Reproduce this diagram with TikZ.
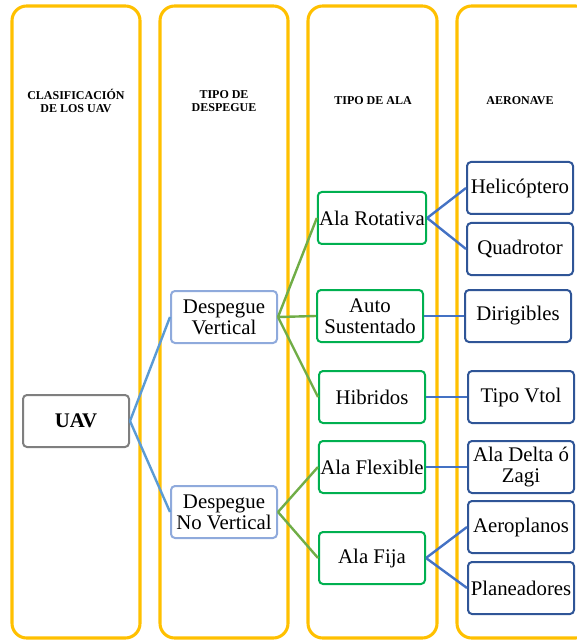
\documentclass[tikz,border=0pt]{standalone}
\usepackage{fontspec}
\setmainfont{Liberation Serif}
\newfontfamily\boxfont{Liberation Serif}
\usepackage{tikz}
\definecolor{gold}{HTML}{FFC000}
\definecolor{uavgray}{HTML}{7F7F7F}
\definecolor{lightblue}{HTML}{8FAADC}
\definecolor{midblue}{HTML}{5B9BD5}
\definecolor{nodegreen}{HTML}{00B050}
\definecolor{linegreen}{HTML}{70AD47}
\definecolor{darkblue}{HTML}{2F5597}
\definecolor{lineblue}{HTML}{4472C4}
\tikzset{
  column/.style={draw=gold, line width=2.3pt, rounded corners=11pt},
  header/.style={font=\boxfont\fontsize{9}{10}\selectfont\bfseries, align=center},
  box/.style={draw, fill=white, rounded corners=3pt, line width=1.5pt,
    minimum width=79.5pt, minimum height=39pt, inner sep=1pt, align=center,
    font=\boxfont\fontsize{15.6}{15.8}\selectfont},
  link/.style={line width=1.8pt}
}

\begin{document}
\begin{tikzpicture}[x=0.75pt, y=-0.75pt]
    \useasboundingbox (0,0) rectangle (576,641);
    \draw[column] (12,6) rectangle (140,638);
    \draw[column] (160,6) rectangle (288,638);
    \draw[column] (308,6) rectangle (437,638);
    \draw[column] (457,6) rectangle (590,638);

    \node[header] (h1) at (76,101) {CLASIFICACIÓN\\DE LOS UAV};
    \node[header] (h2) at (224,101) {TIPO DE\\DESPEGUE};
    \node[header] (h3) at (373,101) {TIPO DE ALA};
    \node[header] (h4) at (520,101) {AERONAVE};

    \node[box, draw=uavgray, font=\boxfont\fontsize{15.6}{15.8}\selectfont\bfseries] (uav) at (76,421) {UAV};

    \node[box, draw=lightblue] (dv) at (224,317) {Despegue\\Vertical};
    \node[box, draw=lightblue] (dnv) at (224,512) {Despegue\\No Vertical};

    \node[box, draw=nodegreen] (rot) at (372,218) {Ala Rotativa};
    \node[box, draw=nodegreen] (aut) at (370,316) {Auto\\Sustentado};
    \node[box, draw=nodegreen] (hib) at (372,397) {Hibridos};
    \node[box, draw=nodegreen] (flex) at (372,467) {Ala Flexible};
    \node[box, draw=nodegreen] (fija) at (372,558) {Ala Fija};

    \node[box, draw=darkblue] (heli) at (520,188) {Helicóptero};
    \node[box, draw=darkblue] (quad) at (520,249) {Quadrotor};
    \node[box, draw=darkblue] (diri) at (518,316) {Dirigibles};
    \node[box, draw=darkblue] (vtol) at (521,397) {Tipo Vtol};
    \node[box, draw=darkblue] (delta) at (521,467) {Ala Delta ó\\Zagi};
    \node[box, draw=darkblue] (aero) at (521,527) {Aeroplanos};
    \node[box, draw=darkblue] (plan) at (521,588) {Planeadores};

    \draw[link, midblue] (uav.east) -- (dv.west);
    \draw[link, midblue] (uav.east) -- (dnv.west);

    \draw[link, linegreen] (dv.east) -- (rot.west);
    \draw[link, linegreen] (dv.east) -- (aut.west);
    \draw[link, linegreen] (dv.east) -- (hib.west);
    \draw[link, linegreen] (dnv.east) -- (flex.west);
    \draw[link, linegreen] (dnv.east) -- (fija.west);

    \draw[link, lineblue] (rot.east) -- (heli.west);
    \draw[link, lineblue] (rot.east) -- (quad.west);
    \draw[link, lineblue] (aut.east) -- (diri.west);
    \draw[link, lineblue] (hib.east) -- (vtol.west);
    \draw[link, lineblue] (flex.east) -- (delta.west);
    \draw[link, lineblue] (fija.east) -- (aero.west);
    \draw[link, lineblue] (fija.east) -- (plan.west);
  \end{tikzpicture}
\end{document}
